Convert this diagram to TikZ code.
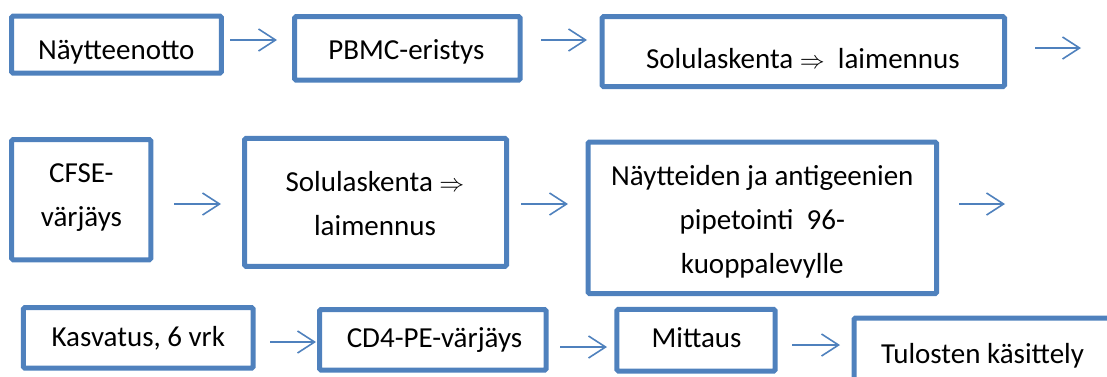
\documentclass[tikz,border=0pt]{standalone}
\usepackage{fontspec}
\setmainfont{Carlito}
\usetikzlibrary{arrows.meta}
\definecolor{boxblue}{RGB}{79,129,189}
\tikzset{
  box/.style={draw=boxblue, line width=5pt, rounded corners=1.5pt, inner sep=0pt, outer sep=0pt, rectangle},
  txt/.style={inner sep=0pt, outer sep=0pt, anchor=base, text=black, font=\fontsize{29}{44}\selectfont},
  arr/.style={draw=boxblue, line width=1.6pt, -{Straight Barb[length=17pt,width=22pt,line width=1.6pt]}}
}
\newcommand{\ra}{{\fontsize{25}{25}\selectfont$\Rightarrow$}}
\begin{document}
\begin{tikzpicture}[x=1pt,y=-1pt]
\useasboundingbox (0,0) rectangle (1107,376);
\clip (0,0) rectangle (1107,376);
% boxes
\node[box, minimum width=209.7pt, minimum height=57.2pt] (b1) at (116.45,44.6) {};
\node[box, minimum width=225.7pt, minimum height=63.6pt] (b2) at (407.35,48.4) {};
\node[box, minimum width=402.5pt, minimum height=70pt] (b3) at (803.25,51.6) {};
\node[box, minimum width=139.3pt, minimum height=120.3pt] (b4) at (81.25,199.65) {};
\node[box, minimum width=262.1pt, minimum height=127.9pt] (b5) at (375.55,202.35) {};
\node[box, minimum width=348.6pt, minimum height=151.7pt] (b6) at (762.3,217.85) {};
\node[box, minimum width=229.9pt, minimum height=60.7pt] (b7) at (138.25,337.85) {};
\node[box, minimum width=226.7pt, minimum height=60.5pt] (b8) at (432.85,339.75) {};
\node[box, minimum width=158.4pt, minimum height=61.6pt] (b9) at (696,340.2) {};
\node[box, minimum width=266pt, minimum height=82pt] (b10) at (987,359) {};
% texts
\node[txt] (t1) at (116.3,59) {Näytteenotto};
\node[txt] (t2) at (406.4,59.5) {PBMC-eristys};
\node[txt] (t3) at (802.9,68.6) {Solulaskenta \ra\ \ laimennus};
\node[txt] (t4) at (81.4,182.1) {\begin{tabular}[t]{@{}c@{}}CFSE-\\värjäys\end{tabular}};
\node[txt] (t5) at (375,191) {\begin{tabular}[t]{@{}c@{}}Solulaskenta \ra\\laimennus\end{tabular}};
\node[txt] (t6) at (762.3,185) {\begin{tabular}[t]{@{}c@{}}Näytteiden ja antigeenien\\pipetointi\ \ 96-\\kuoppalevylle\end{tabular}};
\node[txt] (t7) at (138.3,346.7) {Kasvatus, 6 vrk};
\node[txt] (t8) at (434.5,347.5) {CD4-PE-värjäys};
\node[txt] (t9) at (696.6,347.5) {Mittaus};
\node[txt] (t10) at (982.5,363.3) {Tulosten käsittely};
% arrow end points
\coordinate (a1s) at (230,40);   \coordinate (a1e) at (277,40);
\coordinate (a2s) at (541,40);   \coordinate (a2e) at (587,40);
\coordinate (a3s) at (1035,48);  \coordinate (a3e) at (1081,48);
\coordinate (a4s) at (174,204);  \coordinate (a4e) at (221,204);
\coordinate (a5s) at (521,204);  \coordinate (a5e) at (568,204);
\coordinate (a6s) at (959,204);  \coordinate (a6e) at (1005,204);
\coordinate (a7s) at (270,342);  \coordinate (a7e) at (316,342);
\coordinate (a8s) at (560,347);  \coordinate (a8e) at (607,347);
\coordinate (a9s) at (792,345);  \coordinate (a9e) at (840,345);
\draw[arr] (a1s) -- (a1e);
\draw[arr] (a2s) -- (a2e);
\draw[arr] (a3s) -- (a3e);
\draw[arr] (a4s) -- (a4e);
\draw[arr] (a5s) -- (a5e);
\draw[arr] (a6s) -- (a6e);
\draw[arr] (a7s) -- (a7e);
\draw[arr] (a8s) -- (a8e);
\draw[arr] (a9s) -- (a9e);
\end{tikzpicture}
\end{document}
